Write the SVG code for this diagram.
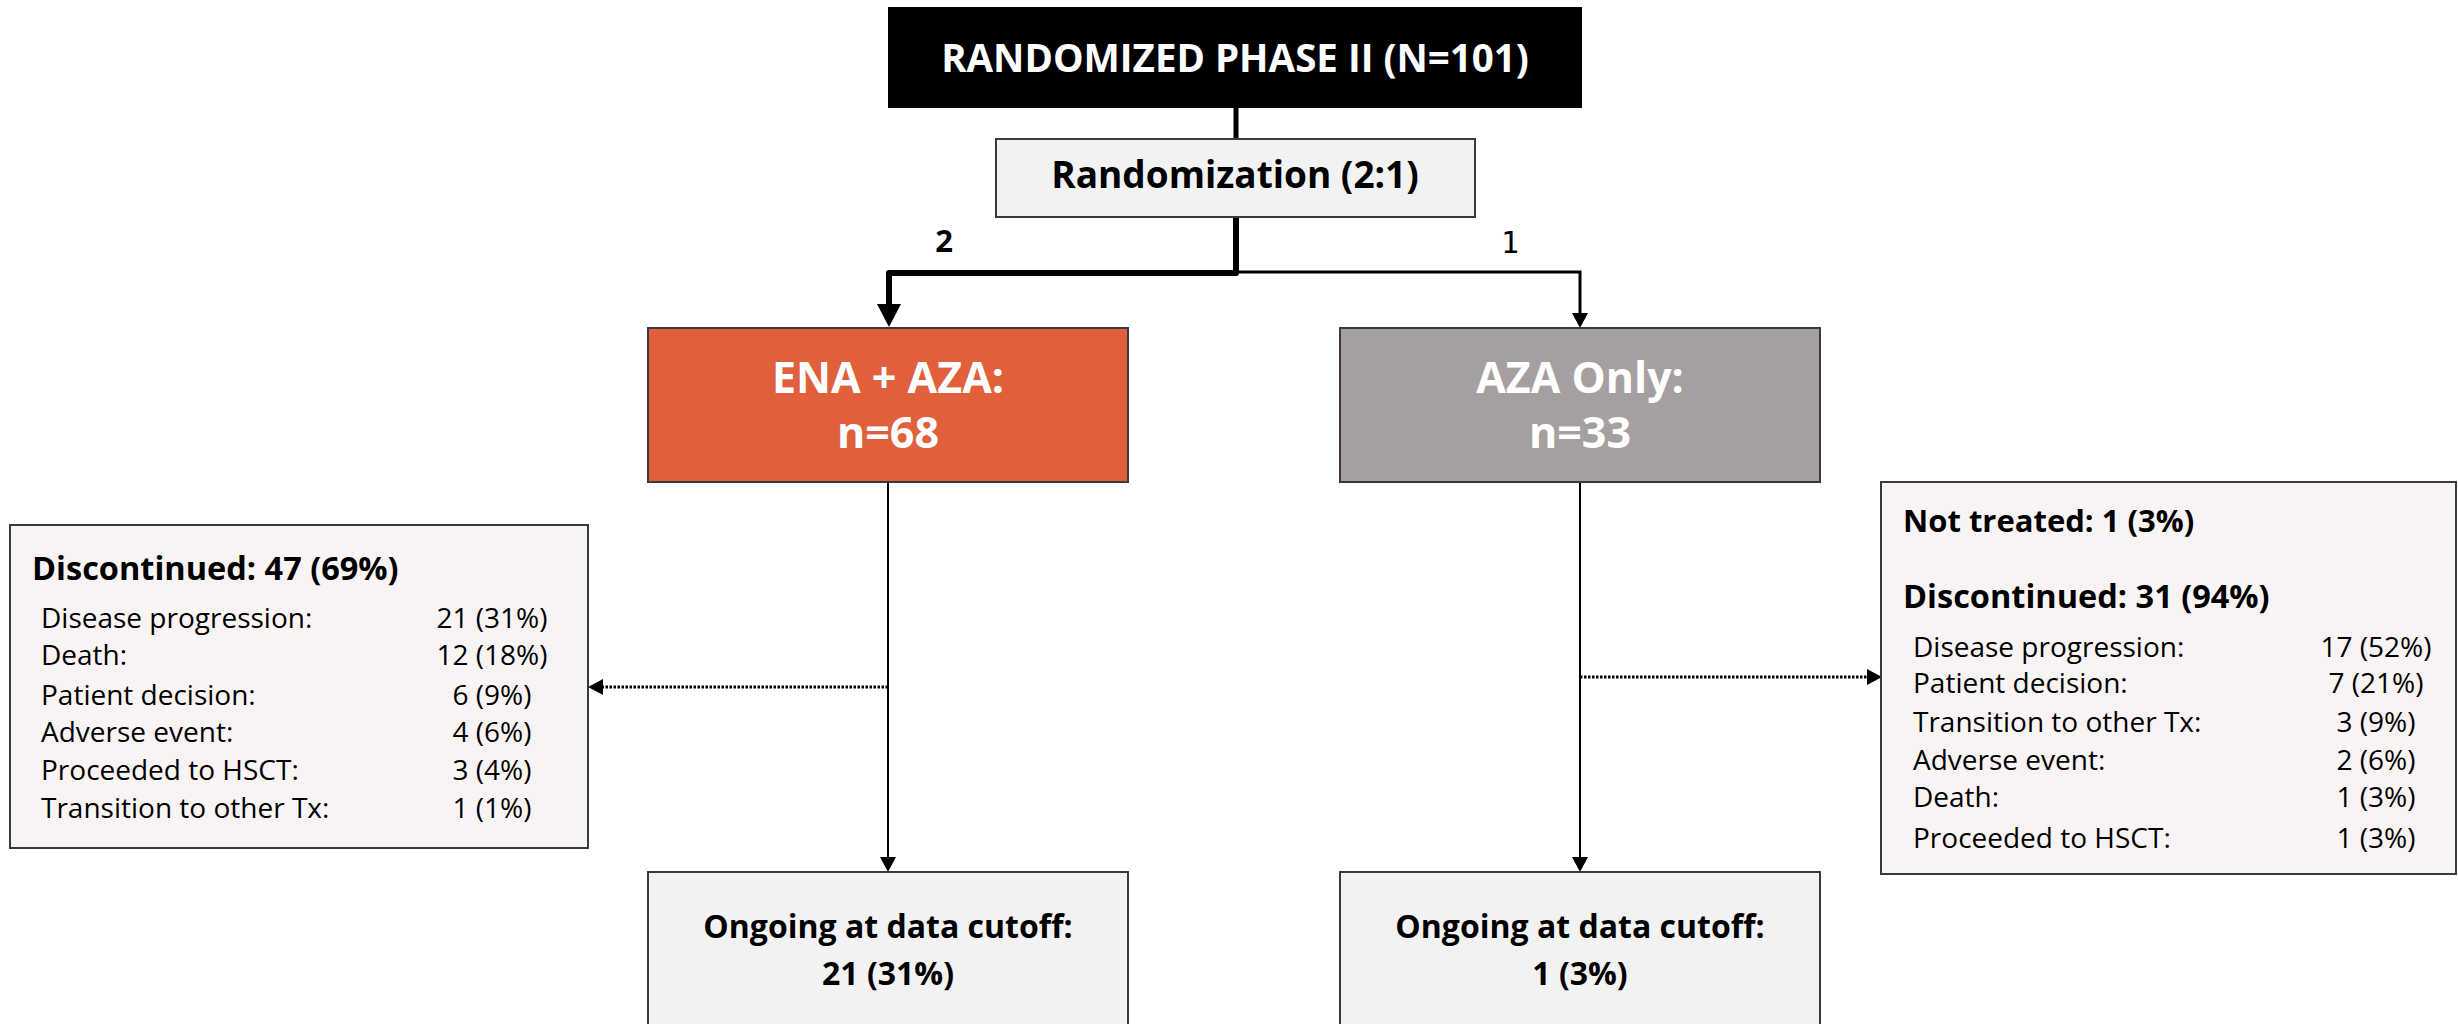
<svg xmlns="http://www.w3.org/2000/svg" width="2458" height="1024" viewBox="0 0 2458 1024">
<defs>
<style>
.b{font-family:"Open Sans","Noto Sans","Liberation Sans",sans-serif;font-weight:700;}
.r{font-family:"Open Sans","Noto Sans","Liberation Sans",sans-serif;font-weight:400;font-size:28px;fill:#000;}
.c{text-anchor:middle;}
.box{stroke:#3a3a3a;stroke-width:2;}
.side{fill:#f9f4f4;stroke:#3a3a3a;stroke-width:2;}
.ln{fill:none;stroke:#000;}
.dot{fill:none;stroke:#000;stroke-width:3;stroke-dasharray:2.5 1.5;}
</style>
<marker id="ah" markerUnits="userSpaceOnUse" markerWidth="15" markerHeight="16" viewBox="0 0 15 16" refX="0" refY="8" orient="auto">
<path d="M0,0 L15,8 L0,16 Z" fill="#000"/>
</marker>
<marker id="ahBig" markerUnits="userSpaceOnUse" markerWidth="23" markerHeight="24" viewBox="0 0 23 24" refX="0" refY="12" orient="auto">
<path d="M0,0 L23,12 L0,24 Z" fill="#000"/>
</marker>
</defs>
<rect width="2458" height="1024" fill="#fff"/>

<g id="connectors">
<line class="ln" x1="1236" y1="107" x2="1236" y2="140" stroke-width="5"/>
<path class="ln" d="M1236 217 V273 H889 V304" stroke-width="6" stroke-linejoin="round" marker-end="url(#ahBig)"/>
<path class="ln" d="M1236 272 H1580 V313" stroke-width="3" marker-end="url(#ah)"/>
<line class="ln" x1="888" y1="482" x2="888" y2="857" stroke-width="2" marker-end="url(#ah)"/>
<line class="ln" x1="1580" y1="482" x2="1580" y2="857" stroke-width="2" marker-end="url(#ah)"/>
<line class="dot" x1="888" y1="687" x2="603" y2="687" marker-end="url(#ah)"/>
<line class="dot" x1="1580" y1="677" x2="1867" y2="677" marker-end="url(#ah)"/>
<text class="b c" x="944" y="252" font-size="31">2</text>
<text x="1510" y="253" font-family="'DejaVu Sans Mono','Liberation Mono',monospace" font-size="30" text-anchor="middle">1</text>
</g>

<g id="title">
<rect x="888" y="7" width="694" height="101" fill="#000"/>
<text class="b c" x="1235" y="72" font-size="38.5" fill="#fff">RANDOMIZED PHASE II (N=101)</text>
</g>

<g id="randomization">
<rect class="box" x="996" y="139" width="479" height="78" fill="#f2f2f2"/>
<text class="b c" x="1235" y="188" font-size="37">Randomization (2:1)</text>
</g>

<g id="ena-aza">
<rect class="box" x="648" y="328" width="480" height="154" fill="#e0603c"/>
<text class="b c" x="888" y="393" font-size="43" fill="#fff">ENA + AZA:</text>
<text class="b c" x="888" y="448" font-size="43" fill="#fff">n=68</text>
</g>

<g id="aza-only">
<rect class="box" x="1340" y="328" width="480" height="154" fill="#a5a09f"/>
<text class="b c" x="1580" y="393" font-size="43" fill="#fff">AZA Only:</text>
<text class="b c" x="1580" y="448" font-size="43" fill="#fff">n=33</text>
</g>

<g id="ena-ongoing">
<rect class="box" x="648" y="872" width="480" height="200" fill="#f2f2f2"/>
<text class="b c" x="888" y="938" font-size="32">Ongoing at data cutoff:</text>
<text class="b c" x="888" y="985" font-size="32">21 (31%)</text>
</g>

<g id="aza-ongoing">
<rect class="box" x="1340" y="872" width="480" height="200" fill="#f2f2f2"/>
<text class="b c" x="1580" y="938" font-size="32">Ongoing at data cutoff:</text>
<text class="b c" x="1580" y="985" font-size="32">1 (3%)</text>
</g>

<g id="ena-discontinued">
<rect class="side" x="10" y="525" width="578" height="323"/>
<text class="b" x="32" y="580" font-size="32.5">Discontinued: 47 (69%)</text>
<text class="r" x="41" y="628">Disease progression:</text>
<text class="r" x="41" y="665">Death:</text>
<text class="r" x="41" y="705">Patient decision:</text>
<text class="r" x="41" y="742">Adverse event:</text>
<text class="r" x="41" y="780">Proceeded to HSCT:</text>
<text class="r" x="41" y="818">Transition to other Tx:</text>
<text class="r c" x="492" y="628">21 (31%)</text>
<text class="r c" x="492" y="665">12 (18%)</text>
<text class="r c" x="492" y="705">6 (9%)</text>
<text class="r c" x="492" y="742">4 (6%)</text>
<text class="r c" x="492" y="780">3 (4%)</text>
<text class="r c" x="492" y="818">1 (1%)</text>
</g>

<g id="aza-discontinued">
<rect class="side" x="1881" y="482" width="575" height="392"/>
<text class="b" x="1903" y="532" font-size="31">Not treated: 1 (3%)</text>
<text class="b" x="1903" y="608" font-size="32.5">Discontinued: 31 (94%)</text>
<text class="r" x="1913" y="657">Disease progression:</text>
<text class="r" x="1913" y="693">Patient decision:</text>
<text class="r" x="1913" y="732">Transition to other Tx:</text>
<text class="r" x="1913" y="770">Adverse event:</text>
<text class="r" x="1913" y="807">Death:</text>
<text class="r" x="1913" y="848">Proceeded to HSCT:</text>
<text class="r c" x="2376" y="657">17 (52%)</text>
<text class="r c" x="2376" y="693">7 (21%)</text>
<text class="r c" x="2376" y="732">3 (9%)</text>
<text class="r c" x="2376" y="770">2 (6%)</text>
<text class="r c" x="2376" y="807">1 (3%)</text>
<text class="r c" x="2376" y="848">1 (3%)</text>
</g>
</svg>
